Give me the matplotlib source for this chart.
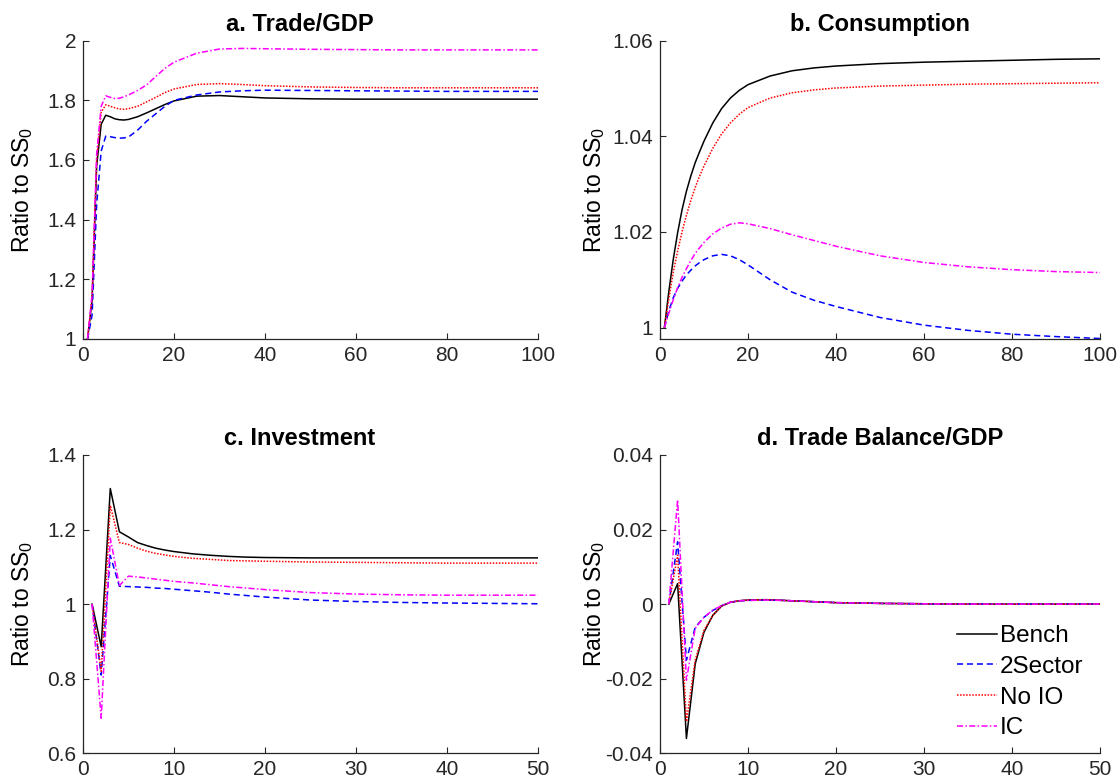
import numpy as np
import matplotlib
matplotlib.use("Agg")
import matplotlib.pyplot as plt
from matplotlib.ticker import FuncFormatter

plt.rcParams['font.family'] = ['Liberation Sans', 'DejaVu Sans']
plt.rcParams['mathtext.default'] = 'regular'

# periods (long horizon panels)
t_long = np.array([1, 2, 3, 4, 5, 6, 7, 8, 9, 10, 12, 14, 16, 18, 20,
                   25, 30, 35, 40, 50, 60, 70, 80, 90, 100])
# periods (short horizon panels)
t_short = np.array([1, 2, 3, 4, 5, 6, 7, 8, 9, 10, 12, 14, 16, 18, 20,
                    25, 30, 35, 40, 45, 50])

labels = ["Bench", "2Sector", "No IO", "IC"]

# a. Trade/GDP
trade_bench = [1.0, 1.13, 1.58, 1.72, 1.75, 1.745, 1.738, 1.735, 1.734, 1.736,
               1.745, 1.758, 1.772, 1.786, 1.798, 1.814, 1.816, 1.812, 1.808,
               1.805, 1.804, 1.804, 1.804, 1.804, 1.804]
trade_2sec = [1.0, 1.08, 1.45, 1.63, 1.68, 1.678, 1.675, 1.673, 1.674, 1.677,
              1.70, 1.73, 1.755, 1.78, 1.80, 1.818, 1.828, 1.832, 1.834,
              1.833, 1.832, 1.831, 1.83, 1.83, 1.83]
trade_noio = [1.0, 1.14, 1.60, 1.76, 1.785, 1.78, 1.775, 1.771, 1.77, 1.772,
              1.78, 1.795, 1.81, 1.826, 1.838, 1.853, 1.856, 1.853, 1.849,
              1.845, 1.843, 1.842, 1.842, 1.842, 1.842]
trade_ic = [1.0, 1.15, 1.62, 1.78, 1.815, 1.81, 1.806, 1.807, 1.812, 1.818,
            1.833, 1.852, 1.88, 1.907, 1.928, 1.958, 1.972, 1.974, 1.973,
            1.971, 1.97, 1.969, 1.969, 1.969, 1.969]

# b. Consumption
cons_bench = [1.0, 1.0075, 1.0142, 1.0198, 1.0246, 1.0285, 1.0317, 1.0345, 1.0368,
              1.039, 1.0428, 1.0458, 1.048, 1.0496, 1.0508, 1.0526, 1.0537,
              1.0543, 1.0547, 1.0552, 1.0555, 1.0557, 1.0559, 1.0561, 1.0562]
cons_2sec = [1.0, 1.0035, 1.0062, 1.0082, 1.0097, 1.011, 1.012, 1.0129, 1.0136,
             1.0142, 1.015, 1.0153, 1.015, 1.0142, 1.0131, 1.01, 1.0074,
             1.0057, 1.0044, 1.0021, 1.0005, 0.9994, 0.9986, 0.9981, 0.9977]
cons_noio = [1.0, 1.006, 1.0115, 1.016, 1.02, 1.0235, 1.0266, 1.0293, 1.0317,
             1.0338, 1.0375, 1.0405, 1.0428, 1.0446, 1.046, 1.048, 1.0491,
             1.0497, 1.0501, 1.0505, 1.0507, 1.0509, 1.051, 1.0511, 1.0512]
cons_ic = [1.0, 1.003, 1.0058, 1.0083, 1.0105, 1.0123, 1.014, 1.0155, 1.0167,
           1.0178, 1.0196, 1.0208, 1.0216, 1.0219, 1.0217, 1.0207, 1.0194,
           1.0182, 1.017, 1.015, 1.0136, 1.0127, 1.0121, 1.0117, 1.0115]

# c. Investment
inv_bench = [1.0, 0.886, 1.31, 1.194, 1.18, 1.165, 1.157, 1.15, 1.145, 1.141,
             1.135, 1.131, 1.128, 1.126, 1.125, 1.124, 1.124, 1.124, 1.124,
             1.124, 1.124]
inv_2sec = [1.0, 0.81, 1.13, 1.048, 1.047, 1.046, 1.045, 1.043, 1.042, 1.04,
            1.036, 1.032, 1.027, 1.023, 1.019, 1.011, 1.007, 1.0045, 1.003,
            1.002, 1.001]
inv_noio = [1.0, 0.82, 1.265, 1.165, 1.16, 1.15, 1.142, 1.136, 1.132, 1.128,
            1.123, 1.12, 1.117, 1.116, 1.115, 1.113, 1.112, 1.111, 1.11,
            1.11, 1.11]
inv_ic = [1.0, 0.694, 1.177, 1.05, 1.075, 1.073, 1.07, 1.067, 1.064, 1.061,
          1.057, 1.052, 1.047, 1.043, 1.039, 1.031, 1.027, 1.025, 1.024,
          1.024, 1.024]

# d. Trade Balance/GDP
tb_bench = [0.0, 0.0055, -0.036, -0.016, -0.0075, -0.003, -0.0005, 0.0005,
            0.0009, 0.0011, 0.0012, 0.001, 0.0008, 0.0006, 0.0004, 0.0002,
            0.0001, 0.0, 0.0, 0.0, 0.0]
tb_2sec = [0.0, 0.0167, -0.015, -0.0062, -0.0035, -0.0017, -0.0004, 0.0005,
           0.0009, 0.001, 0.0011, 0.001, 0.0008, 0.0006, 0.0004, 0.0002,
           0.0001, 0.0, 0.0, 0.0, 0.0]
tb_noio = [0.0, 0.0131, -0.0315, -0.015, -0.007, -0.003, -0.0005, 0.0005,
           0.0009, 0.0011, 0.0012, 0.001, 0.0008, 0.0006, 0.0004, 0.0002,
           0.0001, 0.0, 0.0, 0.0, 0.0]
tb_ic = [0.0, 0.028, -0.0204, -0.0065, -0.0035, -0.0016, -0.0004, 0.0005,
         0.0009, 0.001, 0.0011, 0.001, 0.0008, 0.0006, 0.0004, 0.0002,
         0.0001, 0.0, 0.0, 0.0, 0.0]

styles = [
    dict(color='black', linestyle='-'),
    dict(color='blue', dashes=(4, 2.5)),
    dict(color='red', dashes=(1, 1)),
    dict(color='magenta', dashes=(4, 1.5, 1, 1.5)),
]

fig = plt.figure(figsize=(11.2, 7.82), dpi=100)

panels = [
    ([0.0741, 0.5665, 0.40625, 0.3815], t_long,
     [trade_bench, trade_2sec, trade_noio, trade_ic], 'a. Trade/GDP',
     (0, 100), np.arange(0, 101, 20), (1, 2), np.arange(1, 2.01, 0.2), -0.105, 0.476),
    ([0.5893, 0.5665, 0.3929, 0.3815], t_long,
     [cons_bench, cons_2sec, cons_noio, cons_ic], 'b. Consumption',
     (0, 100), np.arange(0, 101, 20), (0.9976, 1.06), [1, 1.02, 1.04, 1.06], -0.12, 0.5),
    ([0.0741, 0.0367, 0.40625, 0.3815], t_short,
     [inv_bench, inv_2sec, inv_noio, inv_ic], 'c. Investment',
     (0, 50), np.arange(0, 51, 10), (0.6, 1.4), [0.6, 0.8, 1, 1.2, 1.4], -0.105, 0.476),
    ([0.5893, 0.0367, 0.3929, 0.3815], t_short,
     [tb_bench, tb_2sec, tb_noio, tb_ic], 'd. Trade Balance/GDP',
     (0, 50), np.arange(0, 51, 10), (-0.04, 0.04), [-0.04, -0.02, 0, 0.02, 0.04], -0.12, 0.5),
]

axes = []
for rect, t, series, title, xl, xt, yl, yt, lx, tx in panels:
    ax = fig.add_axes(rect)
    for y, st, lab in zip(series, styles, labels):
        ax.plot(t, y, lw=1.1, label=lab, **st)
    ax.set_xlim(xl)
    ax.set_xticks(xt)
    ax.set_ylim(yl)
    ax.set_yticks(yt)
    ax.yaxis.set_major_formatter(FuncFormatter(lambda v, p: '%g' % round(v, 6)))
    ax.set_title(title, fontsize=17, fontweight='bold', pad=7, x=tx)
    ax.set_ylabel('Ratio to SS$_0$', fontsize=16.5)
    ax.yaxis.set_label_coords(lx, 0.5)
    ax.spines['top'].set_visible(False)
    ax.spines['right'].set_visible(False)
    for s in ['left', 'bottom']:
        ax.spines[s].set_color('#262626')
        ax.spines[s].set_linewidth(0.9)
    ax.tick_params(direction='in', length=4, width=0.8, colors='#262626',
                   labelsize=15, pad=5)
    axes.append(ax)

axes[3].legend(loc='upper left', bbox_to_anchor=(0.675, 0.43), frameon=False,
               fontsize=17.5, handlelength=1.65, handletextpad=0.12,
               labelspacing=0.36, borderpad=0, borderaxespad=0)

fig.savefig('out.png', dpi=100)
